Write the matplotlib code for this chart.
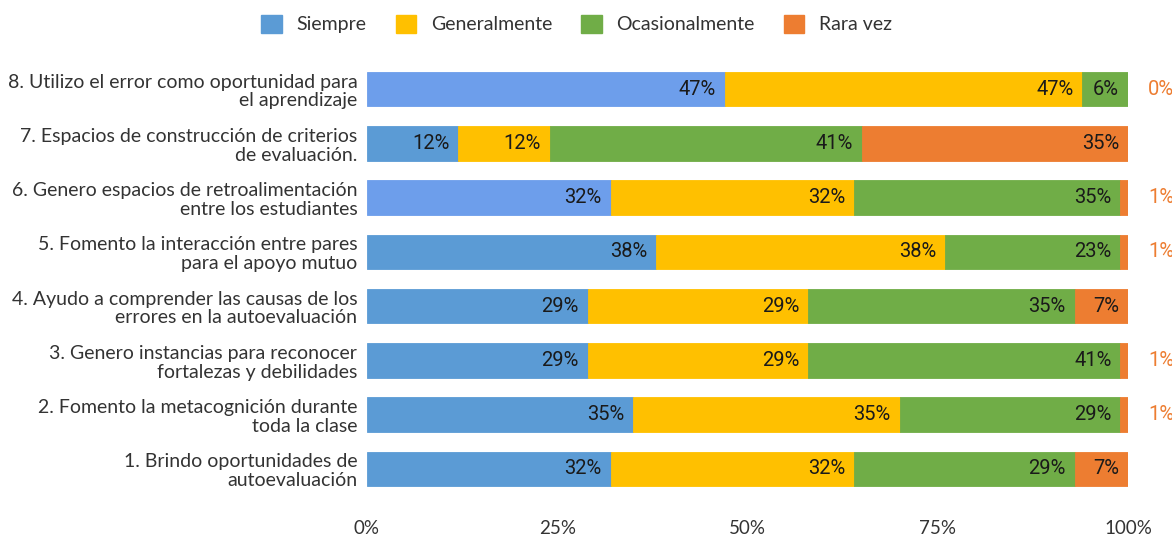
import matplotlib
matplotlib.use("Agg")
import matplotlib.pyplot as plt
import numpy as np
from matplotlib.patches import Patch

categories = [
    "1. Brindo oportunidades de\nautoevaluación",
    "2. Fomento la metacognición durante\ntoda la clase",
    "3. Genero instancias para reconocer\nfortalezas y debilidades",
    "4. Ayudo a comprender las causas de los\nerrores en la autoevaluación",
    "5. Fomento la interacción entre pares\npara el apoyo mutuo",
    "6. Genero espacios de retroalimentación\nentre los estudiantes",
    "7. Espacios de construcción de criterios\nde evaluación.",
    "8. Utilizo el error como oportunidad para\nel aprendizaje",
]
series_names = ["Siempre", "Generalmente", "Ocasionalmente", "Rara vez"]
siempre = [32, 35, 29, 29, 38, 32, 12, 47]
generalmente = [32, 35, 29, 29, 38, 32, 12, 47]
ocasionalmente = [29, 29, 41, 35, 23, 35, 41, 6]
rara_vez = [7, 1, 1, 7, 1, 1, 35, 0]

colors = ["#5b9bd5", "#ffc000", "#70ad47", "#ed7d31"]
alt_blue = "#6d9eeb"
alt_blue_rows = [5, 7]

W, H = 1172, 536
fig = plt.figure(figsize=(W / 100, H / 100), dpi=100)
ax = fig.add_axes([367 / W, 1 - 496 / H, 761 / W, 434 / H])

data = np.array([siempre, generalmente, ocasionalmente, rara_vez], dtype=float)
totals = data.sum(axis=0)
pct = data / totals * 100
y = np.arange(len(categories))
left = np.zeros(len(categories))
bh = 0.64
for s in range(4):
    cols = [colors[s]] * len(categories)
    if s == 0:
        for r in alt_blue_rows:
            cols[r] = alt_blue
    ax.barh(y, pct[s], left=left, height=bh, color=cols, edgecolor=cols,
            linewidth=0.6, zorder=2)
    for i in range(len(categories)):
        v = data[s][i]
        end = left[i] + pct[s][i]
        if pct[s][i] >= 4:
            ax.annotate(f"{v:.0f}%", xy=(end, y[i]), xytext=(-9, 0),
                        textcoords="offset pixels", ha="right", va="center",
                        fontsize=14.5, family="Roboto", color="#1a1a1a", zorder=3)
        else:
            ax.annotate(f"{v:.0f}%", xy=(100, y[i]), xytext=(20, 0),
                        textcoords="offset pixels", ha="left", va="center",
                        fontsize=14.5, family="Roboto", color=colors[3],
                        annotation_clip=False, zorder=3)
    left = left + pct[s]

ax.set_xlim(0, 100)
ax.set_ylim(-0.5, len(categories) - 0.5)
ax.set_yticks(y)
ax.set_yticklabels(categories, fontsize=14, family="Lato", color="#333333",
                   linespacing=1.12)
ax.set_xticks([0, 25, 50, 75, 100])
ax.set_xticklabels(["0%", "25%", "50%", "75%", "100%"], fontsize=13.5,
                   family="Lato", color="#333333")
ax.tick_params(axis="y", length=0, pad=7)
ax.tick_params(axis="x", length=0, pad=17)
for sp in ax.spines.values():
    sp.set_visible(False)

handles = [Patch(facecolor=c, edgecolor=c) for c in colors]
fig.legend(handles, series_names, loc="center", bbox_to_anchor=(0.492, 0.955),
           ncol=4, frameon=False, prop={"family": "Lato", "size": 14},
           handlelength=1.05, handleheight=1.05, columnspacing=1.5,
           handletextpad=0.75, labelcolor="#333333")

fig.savefig("out.png", dpi=100)
